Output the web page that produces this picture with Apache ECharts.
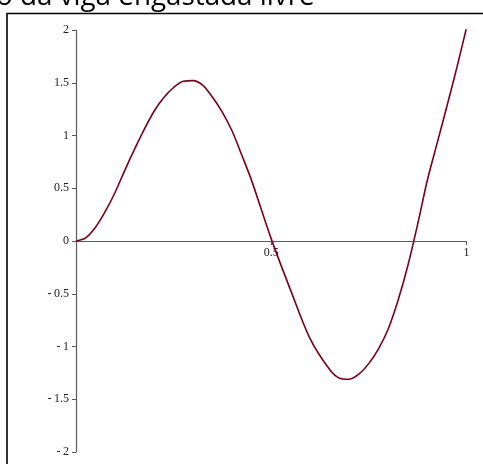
<!DOCTYPE html>
<html>
<head>
<meta charset="utf-8">
<script src="https://cdn.jsdelivr.net/npm/echarts@6/dist/echarts.min.js"></script>
<style>
  html, body { margin: 0; padding: 0; background: #fff; }
  #chart { width: 483px; height: 464px; }
</style>
</head>
<body>
<div id="chart"></div>
<script>
// valores (modo da viga engastada livre)
var xs = [0, 0.025, 0.05, 0.075, 0.1, 0.125, 0.15, 0.175, 0.2, 0.225, 0.25, 0.275, 0.3, 0.325,
          0.35, 0.375, 0.4, 0.425, 0.45, 0.5, 0.55, 0.6, 0.65, 0.675, 0.7, 0.725, 0.75, 0.775,
          0.8, 0.825, 0.85, 0.875, 0.9, 0.925, 0.95, 0.975, 1.0];
var ys = [0, 0.03, 0.13, 0.28, 0.46, 0.67, 0.87, 1.06, 1.23, 1.36, 1.455, 1.515, 1.52, 1.475,
          1.36, 1.22, 1.04, 0.81, 0.57, 0.02, -0.47, -0.93, -1.22, -1.30, -1.31, -1.26, -1.16, -1.02,
          -0.83, -0.56, -0.23, 0.16, 0.58, 0.93, 1.28, 1.64, 2.02];
var titleText = 'o da viga engastada livre';

var chart = echarts.init(document.getElementById('chart'));

var pts = [];
for (var i = 0; i < xs.length; i++) {
  pts.push([xs[i], ys[i]]);
}

function fmtNum(v) {
  if (v < 0) return '-\u2009' + Math.abs(v);
  return String(v);
}

var option = {
  animation: false,
  grid: {
    left: 76,
    right: 16.5,
    top: 30,
    bottom: 12,
    containLabel: false,
    outerBoundsMode: 'none'
  },
  graphic: [
    {
      type: 'rect',
      shape: { x: 7, y: 13.5, width: 500, height: 480 },
      style: { fill: 'none', stroke: '#000', lineWidth: 1.6 },
      z: 0
    },
    {
      type: 'text',
      left: -4,
      top: -17,
      style: {
        text: titleText,
        font: '27.8px "Open Sans", "Noto Sans", sans-serif',
        fill: '#000'
      }
    }
  ],
  xAxis: {
    type: 'value',
    min: 0,
    max: 1,
    interval: 0.5,
    offset: -211,
    splitLine: { show: false },
    axisLine: { onZero: false, lineStyle: { color: '#5a5a5a', width: 1.2 } },
    axisTick: { show: true, length: 4, inside: false, lineStyle: { color: '#5a5a5a' } },
    axisLabel: {
      margin: 6,
      color: '#222',
      fontFamily: '"Liberation Serif", serif',
      fontSize: 12,
      formatter: function (v) { return v === 0 ? '' : String(v); }
    }
  },
  yAxis: {
    type: 'value',
    min: -2,
    max: 2,
    interval: 0.5,
    splitLine: { show: false },
    axisLine: { onZero: true, lineStyle: { color: '#5a5a5a', width: 1.2 } },
    axisTick: { show: true, length: 4, lineStyle: { color: '#5a5a5a' } },
    axisLabel: {
      margin: 7,
      color: '#222',
      fontFamily: '"Liberation Serif", serif',
      fontSize: 12,
      formatter: fmtNum
    }
  },
  series: [{
    type: 'line',
    data: pts,
    smooth: 0.3,
    showSymbol: false,
    lineStyle: { color: '#7a0019', width: 1.6 }
  }]
};

chart.setOption(option);
</script>
</body>
</html>
